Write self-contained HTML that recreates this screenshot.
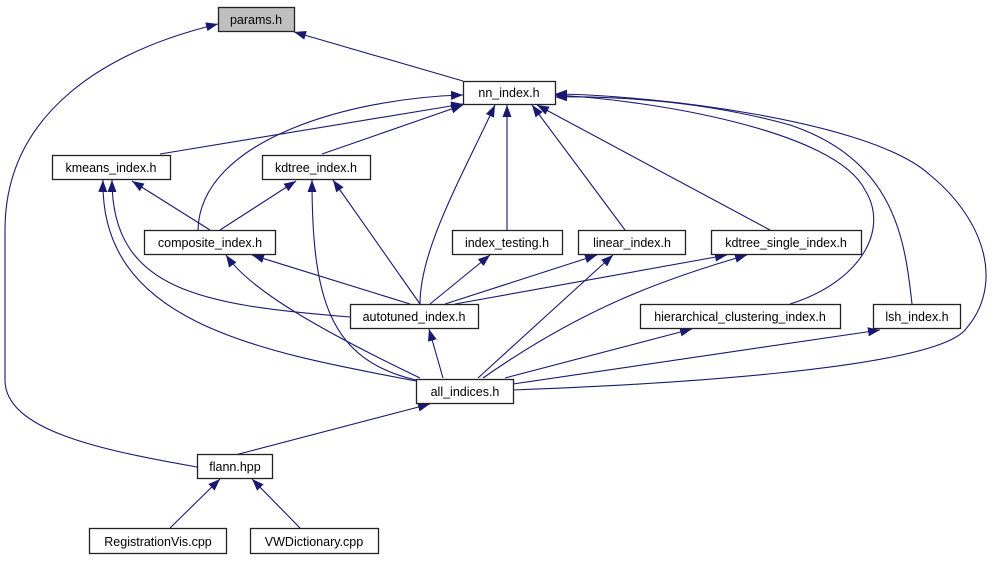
<!DOCTYPE html>
<html><head><meta charset="utf-8"><style>
html,body{margin:0;padding:0;background:#fff;}
svg text{font-family:"Liberation Sans",sans-serif;font-size:12.5px;fill:#000;}
</style></head><body>
<svg width="998" height="560" viewBox="0 0 998 560" xmlns="http://www.w3.org/2000/svg">
<defs><marker id="a" markerWidth="14" markerHeight="10" refX="12" refY="5" orient="auto" markerUnits="userSpaceOnUse"><path d="M0,0.5 L12,5 L0,9.5 Z" fill="#191970"/></marker></defs>
<g fill="none" stroke="#191970" stroke-width="1.1" marker-end="url(#a)">
<path d="M463,81 L294,32"/>
<path d="M197,467 C100,450 5,430 5,380 L5,230 C5,110 110,50 218,24"/>
<path d="M160,154 L463,104"/>
<path d="M322,154 L463,105"/>
<path d="M198,230 C200,140 350,98 463,95"/>
<path d="M420,304 C420,250 460,180 495,105"/>
<path d="M507,230 L507,105"/>
<path d="M625,230 L532,105"/>
<path d="M770,230 L537,105"/>
<path d="M790,304 C860,282 890,230 865,190 C835,130 650,100 555,95"/>
<path d="M912,304 C905,240 895,160 790,125 C700,100 610,96 555,97"/>
<path d="M513,390 C650,385 930,370 965,330 C1005,285 985,220 930,175 C870,120 650,95 555,94"/>
<path d="M210,230 L132,181"/>
<path d="M220,230 L296,181"/>
<path d="M416,381 C250,350 100,320 103,180"/>
<path d="M350,317 C200,305 112,290 112,180"/>
<path d="M420,304 L333,180"/>
<path d="M416,380 C330,360 312,300 312,180"/>
<path d="M410,304 L252,255"/>
<path d="M420,378 C320,330 250,290 226,255"/>
<path d="M430,304 L490,255"/>
<path d="M445,304 L597,255"/>
<path d="M455,304 L727,255"/>
<path d="M443,378 L429,329"/>
<path d="M478,378 L613,255"/>
<path d="M483,378 C580,310 660,280 747,255"/>
<path d="M505,378 L692,329"/>
<path d="M513,384 L880,330"/>
<path d="M235,455 L430,404"/>
<path d="M170,528 L220,479"/>
<path d="M300,528 L252,479"/>
</g>
<g stroke="#222" stroke-width="1.3">
<rect x="218.5" y="7.5" width="76" height="24" fill="#bfbfbf"/>
<rect x="463.5" y="81.5" width="92" height="23" fill="#fff"/>
<rect x="52.5" y="155.5" width="118" height="24" fill="#fff"/>
<rect x="262.5" y="155.5" width="108" height="24" fill="#fff"/>
<rect x="144.5" y="230.5" width="131" height="24" fill="#fff"/>
<rect x="452.5" y="230.5" width="110" height="24" fill="#fff"/>
<rect x="578.5" y="230.5" width="107" height="24" fill="#fff"/>
<rect x="711.5" y="230.5" width="150" height="24" fill="#fff"/>
<rect x="350.5" y="304.5" width="128" height="24" fill="#fff"/>
<rect x="640.5" y="304.5" width="200" height="24" fill="#fff"/>
<rect x="873.5" y="304.5" width="87" height="24" fill="#fff"/>
<rect x="416.5" y="379.5" width="97" height="24" fill="#fff"/>
<rect x="197.5" y="454.5" width="75" height="24" fill="#fff"/>
<rect x="89.5" y="528.5" width="137" height="25" fill="#fff"/>
<rect x="250.5" y="528.5" width="128" height="25" fill="#fff"/>
</g>
<g text-anchor="middle">
<text x="256" y="24">params.h</text>
<text x="509" y="97">nn_index.h</text>
<text x="111" y="172">kmeans_index.h</text>
<text x="316" y="172">kdtree_index.h</text>
<text x="210" y="247">composite_index.h</text>
<text x="507" y="247">index_testing.h</text>
<text x="632" y="247">linear_index.h</text>
<text x="786" y="247">kdtree_single_index.h</text>
<text x="414" y="321">autotuned_index.h</text>
<text x="740" y="321">hierarchical_clustering_index.h</text>
<text x="917" y="321">lsh_index.h</text>
<text x="465" y="396">all_indices.h</text>
<text x="235" y="471">flann.hpp</text>
<text x="158" y="546">RegistrationVis.cpp</text>
<text x="314" y="546">VWDictionary.cpp</text>
</g>
</svg>
</body></html>
